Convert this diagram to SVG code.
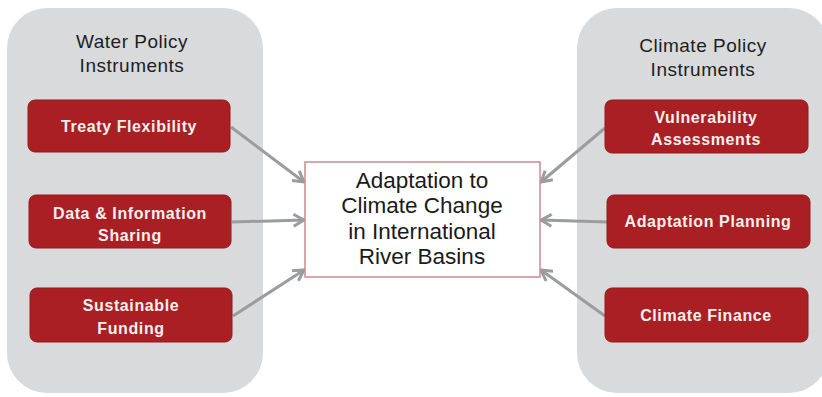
<svg xmlns="http://www.w3.org/2000/svg" width="822" height="397" viewBox="0 0 822 397">
  <defs>
    <style>
      .panel { fill: #d8dadb; }
      .title { font-family: "Liberation Sans", Arial, sans-serif; font-size: 19px; letter-spacing: 0.5px; fill: #1e1e1e; text-anchor: middle; }
      .item rect { fill: #a91f24; stroke: #951a1e; stroke-width: 1; }
      .item text { font-family: "Liberation Sans", Arial, sans-serif; font-size: 16px; letter-spacing: 0.6px; font-weight: bold; fill: #f4f0ee; text-anchor: middle; }
      .hub rect { fill: #ffffff; stroke: #c98c8f; stroke-width: 1.5; }
      .hub text { font-family: "Liberation Sans", Arial, sans-serif; font-size: 22.5px; fill: #1a1a1a; text-anchor: middle; }
      .link { stroke: #9a9c9d; stroke-width: 3; fill: none; marker-end: url(#chev); }
    </style>
    <marker id="chev" viewBox="0 0 10 10" refX="8" refY="5" markerWidth="5" markerHeight="5" orient="auto" markerUnits="strokeWidth">
      <path d="M1,1 L8,5 L1,9" fill="none" stroke="#9a9c9d" stroke-width="2"/>
    </marker>
  </defs>

  <!-- side panels -->
  <rect class="panel" x="7" y="8" width="256" height="385" rx="40"/>
  <rect class="panel" x="577" y="8" width="252" height="385" rx="40"/>

  <g id="water-title">
    <text class="title" x="132" y="48">Water Policy</text>
    <text class="title" x="132" y="72">Instruments</text>
  </g>
  <g id="climate-title">
    <text class="title" x="703" y="52">Climate Policy</text>
    <text class="title" x="703" y="76">Instruments</text>
  </g>

  <!-- connectors -->
  <g id="connectors">
    <line class="link" x1="231" y1="127" x2="304" y2="182"/>
    <line class="link" x1="232" y1="222" x2="304" y2="220"/>
    <line class="link" x1="233" y1="316" x2="304" y2="270"/>
    <line class="link" x1="605" y1="128" x2="541" y2="182"/>
    <line class="link" x1="607" y1="222" x2="541" y2="220"/>
    <line class="link" x1="605" y1="316" x2="541" y2="270"/>
  </g>

  <g id="treaty-flexibility" class="item">
    <rect x="28" y="100" width="202" height="52" rx="7"/>
    <text x="129" y="132">Treaty Flexibility</text>
  </g>
  <g id="data-sharing" class="item">
    <rect x="29" y="195" width="202" height="53" rx="7"/>
    <text x="130" y="219">Data &amp; Information</text>
    <text x="130" y="241">Sharing</text>
  </g>
  <g id="sustainable-funding" class="item">
    <rect x="30" y="288" width="202" height="54" rx="7"/>
    <text x="131" y="311">Sustainable</text>
    <text x="131" y="334">Funding</text>
  </g>

  <g id="vulnerability" class="item">
    <rect x="605" y="100" width="203" height="53" rx="7"/>
    <text x="706" y="123">Vulnerability</text>
    <text x="706" y="145">Assessments</text>
  </g>
  <g id="adaptation-planning" class="item">
    <rect x="607" y="195" width="203" height="53" rx="7"/>
    <text x="708" y="227">Adaptation Planning</text>
  </g>
  <g id="climate-finance" class="item">
    <rect x="605" y="288" width="203" height="54" rx="7"/>
    <text x="706" y="321">Climate Finance</text>
  </g>

  <g id="adaptation-hub" class="hub">
    <rect x="305" y="162" width="235" height="115"/>
    <text x="422" y="188">Adaptation to</text>
    <text x="422" y="213">Climate Change</text>
    <text x="422" y="239">in International</text>
    <text x="422" y="264">River Basins</text>
  </g>
</svg>
